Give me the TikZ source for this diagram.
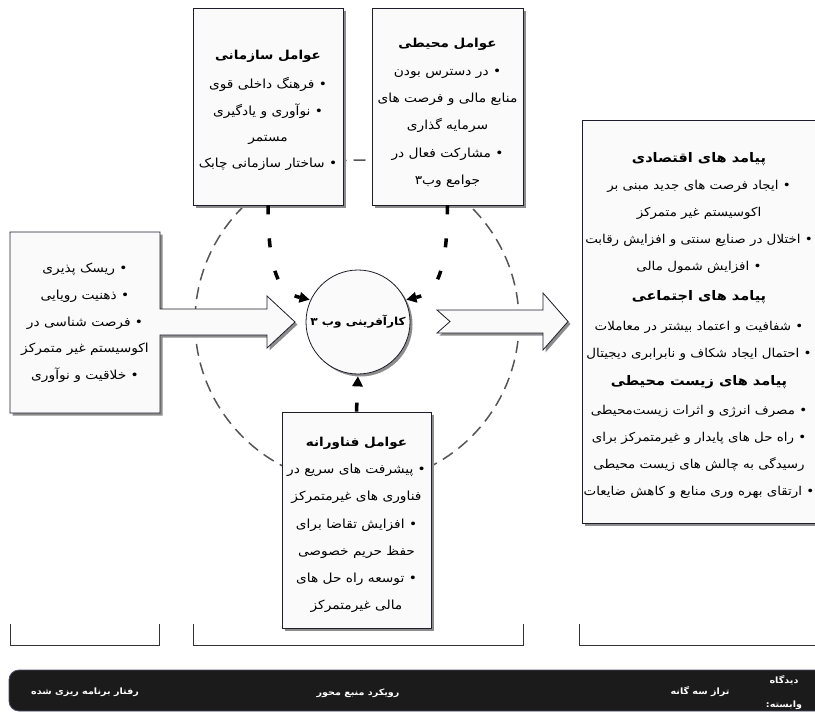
\documentclass[tikz,border=0pt]{standalone}
\usepackage{fontspec}
\usetikzlibrary{arrows.meta,shadows,calc}
\TeXXeTstate=1
\newfontfamily\fa[Script=Arabic,FakeStretch=1.1]{DejaVu Sans}
\newcommand\fl[1]{\beginR #1\endR}
\newcommand\bodyfont{\fa\fontsize{12.5}{27}\selectfont}
\newcommand\hd[1]{{\fa\bfseries\fontsize{12.3}{27}\selectfont\beginR #1\endR}}
\newcommand\hdr[1]{{\fa\bfseries\fontsize{13.2}{27}\selectfont\beginR #1\endR}}
\definecolor{boxfill}{HTML}{FAFAFA}
\definecolor{edgecol}{HTML}{1E1E2A}
\definecolor{ringcol}{HTML}{555555}
\definecolor{barcol}{HTML}{1B1B1B}
\definecolor{bartop}{HTML}{4A4A66}
\definecolor{brackcol}{HTML}{333333}
\begin{document}
\begin{tikzpicture}[x=1pt,y=-1pt,
  shadowed/.style={drop shadow={shadow xshift=2.5pt,shadow yshift=-2.5pt,fill=black!45,opacity=1}},
  box/.style={draw=edgecol,line width=0.8pt,fill=boxfill,shadowed,inner sep=0pt},
  txt/.style={align=center,font=\bodyfont,inner sep=0pt},
  ring/.style={draw=ringcol,line width=1.5pt,dash pattern=on 12pt off 7pt},
  link/.style={line width=3.5pt,dash pattern=on 9pt off 24pt,-{Triangle[length=10pt,width=11pt,line width=0pt]},shorten >=1pt},
  brack/.style={draw=brackcol,line width=0.9pt},
  bartext/.style={text=white,font=\fa\bfseries\fontsize{8.7}{12}\selectfont,inner sep=0pt,align=center}]
\useasboundingbox (0,0) rectangle (815,713);
\begin{scope}
\clip (0,0) rectangle (815,713);
% background ring
\coordinate (ctr) at (357,322);
\draw[ring] (ctr) circle[radius=162];

% top boxes
\node[box,minimum width=150pt,minimum height=197pt] (org) at (268,106.5) {};
\node[txt,font=\fa\fontsize{12.5}{26.3}\selectfont] (orgtext) at ($(org.center)+(0,4)$)
  {\hd{عوامل سازمانی}\\[3pt]
   \fl{• فرهنگ داخلی قوی}\\
   \fl{• نوآوری و یادگیری}\\
   \fl{مستمر}\\
   \fl{• ساختار سازمانی چابک}};
\node[box,minimum width=151pt,minimum height=197pt] (env) at (447.5,106.5) {};
\node[txt,font=\fa\fontsize{12.5}{27.4}\selectfont] (envtext) at ($(env.center)+(0,6.5)$)
  {\hd{عوامل محیطی}\\
   \fl{• در دسترس بودن}\\
   \fl{منابع مالی و فرصت های}\\
   \fl{سرمایه گذاری}\\
   \fl{• مشارکت فعال در}\\
   \fl{جوامع وب۳}};

% left box with arrow
\path[draw=edgecol,line width=0.8pt,fill=boxfill,shadowed]
  (10,232) -- (160,232) -- (160,309) -- (267,309) -- (267,296) -- (295,322)
  -- (267,348) -- (267,335) -- (160,335) -- (160,413) -- (10,413) -- cycle;
\node[txt,font=\fa\fontsize{12.5}{26.75}\selectfont] (lbtext) at (85,323)
  {\fl{• ریسک پذیری}\\
   \fl{• ذهنیت رویایی}\\
   \fl{• فرصت شناسی در}\\
   \fl{اکوسیستم غیر متمرکز}\\
   \fl{• خلاقیت و نوآوری}};

% right arrow
\path[draw=edgecol,line width=0.8pt,fill=boxfill,shadowed]
  (437,310) -- (543,310) -- (543,293) -- (568,321.5) -- (543,350) -- (543,333)
  -- (437,333) -- (450,321.5) -- cycle;

% tech box
\node[box,minimum width=149pt,minimum height=216pt] (tech) at (356.5,520) {};
\node[txt,font=\fa\fontsize{12.5}{27.2}\selectfont] (techtext) at ($(tech.center)+(0,5)$)
  {\hd{عوامل فناورانه}\\
   \fl{• پیشرفت های سریع در}\\
   \fl{فناوری های غیرمتمرکز}\\
   \fl{• افزایش تقاضا برای}\\
   \fl{حفظ حریم خصوصی}\\
   \fl{• توسعه راه حل های}\\
   \fl{مالی غیرمتمرکز}};

% right box
\node[box,minimum width=246pt,minimum height=403pt] (rb) at (705,321.5) {};
\node[txt,font=\fa\fontsize{12.2}{27}\selectfont] (rbtext) at (699,325.5)
  {\hdr{پیامد های اقتصادی}\\[0pt]
   \fl{• ایجاد فرصت های جدید مبنی بر}\\
   \fl{اکوسیستم غیر متمرکز}\\
   \fl{• اختلال در صنایع سنتی و افزایش رقابت}\\
   \fl{• افزایش شمول مالی}\\[3pt]
   \hdr{پیامد های اجتماعی}\\[3pt]
   \fl{• شفافیت و اعتماد بیشتر در معاملات}\\
   \fl{• احتمال ایجاد شکاف و نابرابری دیجیتال}\\[1pt]
   \hdr{پیامد های زیست محیطی}\\[2pt]
   \fl{• مصرف انرژی و اثرات زیست‌محیطی}\\
   \fl{• راه حل های پایدار و غیرمتمرکز برای}\\
   \fl{رسیدگی به چالش های زیست محیطی}\\
   \fl{• ارتقای بهره وری منابع و کاهش ضایعات}};

% center circle
\node[circle,draw=edgecol,line width=0.8pt,fill=boxfill,shadowed,minimum size=104pt,inner sep=0pt,
  font=\fa\bfseries\fontsize{11}{15}\selectfont] (c) at (358,322) {\fl{کارآفرینی وب ۳}};

% connectors
\draw[link] (org.south) .. controls +(0,78) and ($(c.155)+(-26,-6)$) .. (c.155);
\draw[link] (env.south) .. controls +(0,78) and ($(c.25)+(26,-6)$) .. (c.25);
\draw[link,shorten >=2pt] (tech.north) -- (c.south);

% brackets
\draw[brack] (10,624) -- (10,645) -- (159,645) -- (159,624);
\draw[brack] (193,624) -- (193,645) -- (523,645) -- (523,624);
\draw[brack] (579,624) -- (579,645) -- (820,645);

% bottom bar
\path[fill=barcol,draw=bartop,line width=0.8pt,rounded corners=10pt] (9,670) rectangle (840,711);
\node[bartext] (b1) at (85,692) {\fl{رفتار برنامه ریزی شده}};
\node[bartext] (b2) at (358,693) {\fl{رویکرد منبع محور}};
\node[bartext] (b3) at (700,692) {\fl{تراز سه گانه}};
\node[bartext] (b4) at (784,693) {\fl{دیدگاه}\\[12pt]\fl{وابسته:}};
\end{scope}
\end{tikzpicture}
\end{document}
